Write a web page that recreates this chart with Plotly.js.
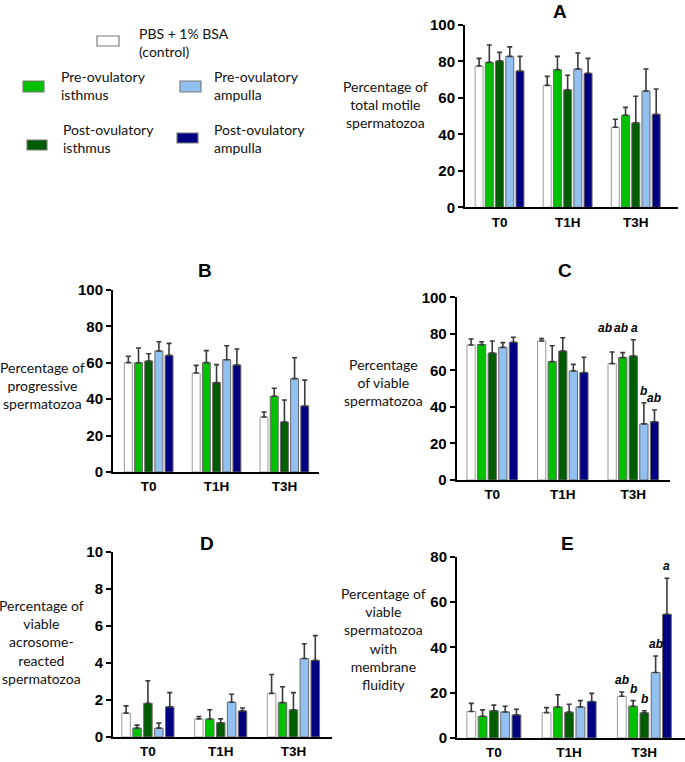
<!DOCTYPE html>
<html>
<head>
<meta charset="utf-8">
<script src="https://cdn.plot.ly/plotly-3.0.1.min.js"></script>
<style>
  html, body { margin: 0; padding: 0; background: #fff; }
  #chart { width: 685px; height: 762px; }
</style>
</head>
<body>
<div id="chart"></div>
<script>
// time points and groups
var times = ["T0", "T1H", "T3H"];
var groupNames = ["PBS + 1% BSA<br>(control)", "Pre-ovulatory<br>isthmus", "Post-ovulatory<br>isthmus",
                  "Pre-ovulatory<br>ampulla", "Post-ovulatory<br>ampulla"];
var groupColors = ["#ffffff", "#00c000", "#005c00", "#92c0f0", "#000080"];

// A - total motile spermatozoa (mean per group, T0/T1H/T3H)
var motileMean = [[77.5, 66.9, 43.9], [79.5, 75.5, 50.5], [80.3, 64.4, 46.3], [82.8, 75.9, 63.8], [74.8, 73.5, 51.0]];
var motileSd   = [[4.2, 4.9, 4.4], [9.5, 7.3, 4.3], [4.7, 8.0, 14.6], [5.2, 8.7, 12.1], [8.0, 8.2, 13.9]];

// B - progressive spermatozoa
var progMean = [[60.1, 54.4, 30.2], [60.0, 60.1, 41.6], [61.0, 49.1, 27.5], [66.5, 61.7, 51.3], [64.1, 58.8, 36.3]];
var progSd   = [[3.5, 4.2, 2.8], [8.1, 6.6, 4.4], [4.0, 9.9, 12.1], [5.1, 7.7, 11.5], [6.6, 8.8, 14.2]];

// C - viable spermatozoa
var viableMean = [[73.9, 76.1, 63.7], [74.1, 64.8, 67.0], [69.5, 70.6, 67.9], [72.6, 59.7, 30.7], [75.4, 58.8, 31.9]];
var viableSd   = [[3.3, 1.3, 6.4], [1.6, 8.7, 2.7], [6.6, 7.3, 8.9], [2.6, 3.6, 11.6], [2.7, 8.4, 6.4]];
var viableSig  = ["ab", "ab", "a", "b", "ab"];   // letters at T3H
var viableSigRow = [1, 1, 1, 0, 0];              // letters sharing one line

// D - viable acrosome-reacted spermatozoa
var acroMean = [[1.29, 0.98, 2.36], [0.48, 0.97, 1.86], [1.82, 0.77, 1.47], [0.48, 1.88, 4.24], [1.63, 1.41, 4.14]];
var acroSd   = [[0.39, 0.13, 1.02], [0.16, 0.50, 0.86], [1.22, 0.21, 0.93], [0.27, 0.43, 0.80], [0.77, 0.16, 1.34]];

// E - viable spermatozoa with membrane fluidity
var fluidMean = [[11.7, 11.2, 18.4], [9.6, 13.7, 14.0], [12.0, 11.4, 11.1], [11.5, 13.7, 28.9], [10.2, 16.1, 54.6]];
var fluidSd   = [[3.6, 2.2, 1.9], [2.8, 5.4, 2.5], [2.5, 3.5, 0.9], [2.5, 2.8, 7.3], [2.5, 3.6, 15.9]];
var fluidSig  = ["ab", "b", "b", "ab", "a"];
var fluidSigRow = [0, 0, 0, 0, 0];

(function() {
  "use strict";

  var W = 685, H = 762;
  var BARGAP = 0.25;

  function px(x) { return x / W; }
  function py(y) { return 1 - y / H; }

  var tickFont = {family: "Liberation Sans, Arial, sans-serif", size: 15, color: "#000", weight: "bold"};
  var catFont = {family: "Liberation Sans, Arial, sans-serif", size: 13.5, color: "#000", weight: "bold"};
  var textFont = {family: "Lato, Open Sans, sans-serif", size: 14, color: "#111"};

  // one panel: its box in pixels, x range, y range, title and letters
  var panels = [
    {key: "A", mean: motileMean, sd: motileSd, box: [465, 678, 25, 207.3], xr: [-0.507, 2.62], yr: [0, 100], dtick: 20,
     title: "Percentage of<br>total motile<br>spermatozoa", tpos: [385, 104], lpos: [560, 11]},
    {key: "B", mean: progMean, sd: progSd, box: [113, 319, 290, 472], xr: [-0.526, 2.51], yr: [0, 100], dtick: 20,
     title: "Percentage of<br>progressive<br>spermatozoa", tpos: [42, 385], lpos: [205, 271]},
    {key: "C", mean: viableMean, sd: viableSd, box: [456.7, 670, 297.3, 480], xr: [-0.504, 2.52], yr: [0, 100], dtick: 20,
     title: "Percentage<br>of viable<br>spermatozoa", tpos: [383, 383], lpos: [565, 271],
     sig: viableSig, sigRow: viableSigRow, sigShift: [-7, -2, 1, 0, 0]},
    {key: "D", mean: acroMean, sd: acroSd, box: [113, 332, 552, 737], xr: [-0.48, 2.53], yr: [0, 10], dtick: 2,
     title: "Percentage of<br>viable<br>acrosome-<br>reacted<br>spermatozoa", tpos: [41, 642], lpos: [207, 543]},
    {key: "E", mean: fluidMean, sd: fluidSd, box: [457, 685, 556.7, 738], xr: [-0.49, 2.54], yr: [0, 80], dtick: 20,
     title: "Percentage of<br>viable<br>spermatozoa<br>with<br>membrane<br>fluidity", tpos: [383, 639], lpos: [567, 543],
     sig: fluidSig, sigRow: fluidSigRow, sigShift: [0, 0, 0, 0, 0]}
  ];

  function main() {
    var data = [];
    var layout = {
      width: W,
      height: H,
      margin: {l: 0, r: 0, t: 0, b: 0},
      paper_bgcolor: "#fff",
      plot_bgcolor: "rgba(0,0,0,0)",
      showlegend: false,
      barmode: "group",
      bargap: BARGAP,
      bargroupgap: 0.22,
      annotations: [],
      shapes: []
    };

    panels.forEach(function(p, k) {
      var n = k === 0 ? "" : String(k + 1);
      var xa = "x" + n, ya = "y" + n;

      for (var g = 0; g < groupNames.length; g += 1) {
        data.push({
          type: "bar",
          x: times,
          y: p.mean[g],
          xaxis: xa,
          yaxis: ya,
          name: groupNames[g],
          marker: {color: groupColors[g], line: {color: g === 0 ? "#9a9a9a" : "#6a6a6a", width: 1}},
          error_y: {
            type: "data",
            symmetric: false,
            array: p.sd[g],
            arrayminus: [0, 0, 0],
            color: "#3a3a3a",
            thickness: 1.6,
            width: 2.5
          },
          hoverinfo: "skip"
        });
      }

      layout["xaxis" + n] = {
        domain: [px(p.box[0]), px(p.box[1])],
        anchor: ya,
        type: "category",
        range: p.xr,
        showline: true,
        linecolor: "#000",
        linewidth: 2,
        ticks: "",
        ticklabelstandoff: 1,
        tickfont: catFont,
        showgrid: false,
        zeroline: false,
        fixedrange: true
      };
      layout["yaxis" + n] = {
        domain: [py(p.box[3]), py(p.box[2])],
        anchor: xa,
        range: p.yr,
        dtick: p.dtick,
        showline: true,
        linecolor: "#000",
        linewidth: 2,
        ticks: "outside",
        ticklen: 5,
        tickwidth: 2,
        tickcolor: "#000",
        tickfont: tickFont,
        showgrid: false,
        zeroline: false,
        fixedrange: true
      };

      // axis title as a centred block to the left
      layout.annotations.push({
        xref: "paper", yref: "paper",
        x: px(p.tpos[0]), y: py(p.tpos[1]),
        xanchor: "center", yanchor: "middle",
        text: p.title, showarrow: false, align: "center",
        font: textFont
      });
      // panel letter
      layout.annotations.push({
        xref: "paper", yref: "paper",
        x: px(p.lpos[0]), y: py(p.lpos[1]),
        xanchor: "center", yanchor: "middle",
        text: "<b>" + p.key + "</b>", showarrow: false,
        font: {family: "Liberation Sans, Arial, sans-serif", size: 19, color: "#000"}
      });

      // significance letters over the T3H bars
      if (p.sig) {
        var slot = (1 - BARGAP) / groupNames.length;
        var rowTop = 0;
        p.sig.forEach(function(s, g) {
          if (p.sigRow[g]) {
            rowTop = Math.max(rowTop, p.mean[g][2] + p.sd[g][2]);
          }
        });
        p.sig.forEach(function(s, g) {
          var top = p.sigRow[g] ? rowTop : p.mean[g][2] + p.sd[g][2];
          layout.annotations.push({
            xref: xa, yref: ya,
            x: 2 + (g - 2) * slot,
            y: top,
            xshift: p.sigShift[g],
            yshift: 12,
            xanchor: "center", yanchor: "middle",
            text: "<b><i>" + s + "</i></b>", showarrow: false,
            font: {family: "Liberation Sans, Arial, sans-serif", size: 12, color: "#000"}
          });
        });
      }
    });

    // legend drawn as swatches and labels
    var legendPos = [
      {box: [97, 36, 119, 46], text: [137, 42]},
      {box: [23, 81, 44, 92], text: [59, 86]},
      {box: [27, 140, 47, 150], text: [61, 138]},
      {box: [180, 81, 201, 92], text: [212, 86]},
      {box: [177, 133, 198, 143], text: [212, 138]}
    ];
    legendPos.forEach(function(l, g) {
      layout.shapes.push({
        type: "rect", xref: "paper", yref: "paper",
        x0: px(l.box[0]), x1: px(l.box[2]), y0: py(l.box[3]), y1: py(l.box[1]),
        fillcolor: groupColors[g],
        line: {color: "#7a7a7a", width: 1.2}
      });
      layout.annotations.push({
        xref: "paper", yref: "paper",
        x: px(l.text[0]), y: py(l.text[1]),
        xanchor: "left", yanchor: "middle",
        text: groupNames[g], showarrow: false, align: "left",
        font: textFont
      });
    });

    Plotly.newPlot("chart", data, layout, {displayModeBar: false, staticPlot: true});
  }

  window.addEventListener("load", main, false);

})();
</script>
</body>
</html>
